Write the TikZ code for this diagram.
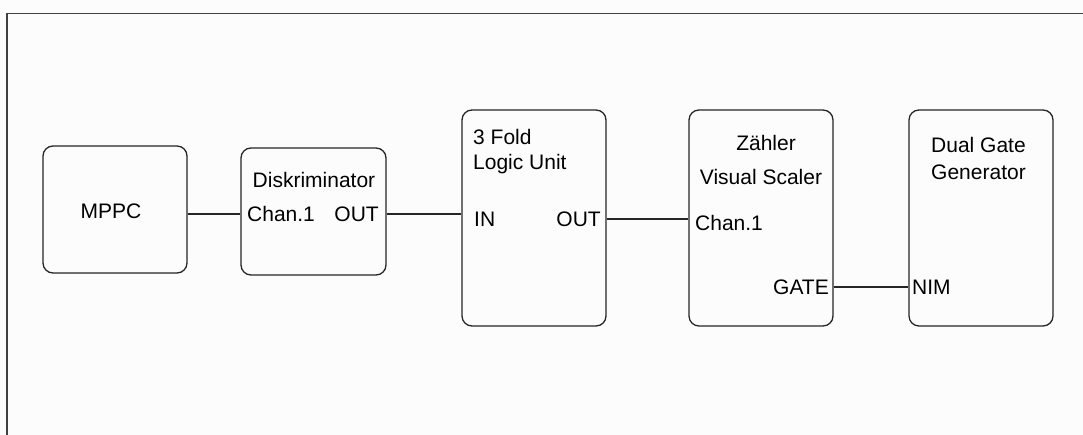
\documentclass[tikz,border=0pt]{standalone}
\usepackage{fontspec}
\setmainfont{Liberation Sans}
\begin{document}
\begin{tikzpicture}[x=1pt,y=-1pt,
  unit/.style={draw=black!85, line width=1.3pt, rounded corners=10pt, inner sep=0pt},
  lbl/.style={font=\fontsize{21}{25}\selectfont, inner sep=0pt},
  wire/.style={draw=black!85, line width=1.3pt}]
\useasboundingbox (0,0) rectangle (1083,435);
\fill[white!99!black] (0,0) rectangle (1083,435);
\draw[line width=1.5pt, black!75] (7,435) -- (7,13.5) -- (1083,13.5);
% boxes
\node[unit, minimum width=144pt, minimum height=127pt] (mppc) at (115,209.5) {};
\node[unit, minimum width=145pt, minimum height=127pt] (disk) at (313.5,211.5) {};
\node[unit, minimum width=144pt, minimum height=216pt] (fold) at (534,218) {};
\node[unit, minimum width=144pt, minimum height=216pt] (zaehl) at (761,218) {};
\node[unit, minimum width=144pt, minimum height=216pt] (dual) at (981,218) {};
% texts
\node[lbl] (tmppc) at (111,211) {MPPC};
\node[lbl] (tdisk) at (314,180) {Diskriminator};
\node[lbl, anchor=west] (dchan) at (247,214) {Chan.1};
\node[lbl, anchor=east] (dout) at (379,214) {OUT};
\node[lbl, anchor=west] (tfold1) at (473,137) {3 Fold};
\node[lbl, anchor=west] (tfold2) at (473,164) {Logic Unit};
\node[lbl, anchor=west] (fin) at (474,219) {IN};
\node[lbl, anchor=east] (fout) at (601,219) {OUT};
\node[lbl] (tz1) at (766,143) {Zähler};
\node[lbl] (tz2) at (761,177) {Visual Scaler};
\node[lbl, anchor=west] (zchan) at (695,223) {Chan.1};
\node[lbl, anchor=east] (zgate) at (829,287) {GATE};
\node[lbl, anchor=west] (td1) at (931,145) {Dual Gate};
\node[lbl, anchor=west] (td2) at (931,172) {Generator};
\node[lbl, anchor=west] (dnim) at (912,287) {NIM};
% wires
\draw[wire] (mppc.east |- dchan) -- (disk.west |- dchan);
\draw[wire] (disk.east |- dchan) -- (fold.west |- dchan);
\draw[wire] (fold.east |- fout) -- (zaehl.west |- fout);
\draw[wire] (zaehl.east |- zgate) -- (dual.west |- zgate);
\end{tikzpicture}
\end{document}
